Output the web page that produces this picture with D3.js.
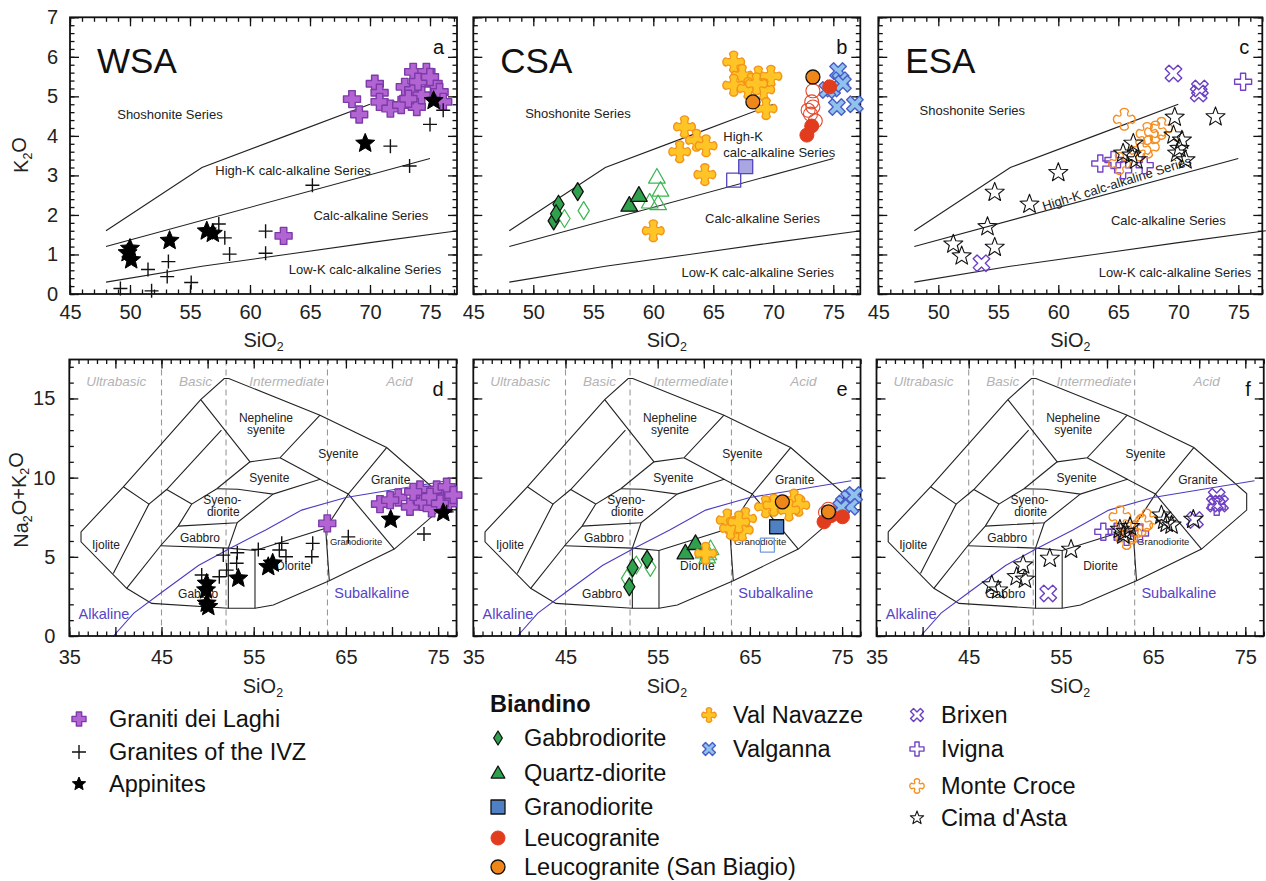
<!DOCTYPE html>
<html><head><meta charset="utf-8">
<script src="https://cdn.jsdelivr.net/npm/d3@7"></script>
<style>
body{margin:0;background:#fff;}
svg{display:block;font-family:"Liberation Sans",Arial,sans-serif;}
</style></head><body>
<svg id="chart" width="1266" height="881"></svg>
<script>
// ---------- K2O vs SiO2 (Peccerillo & Taylor) ----------
const wsaLaghiK = [[68.5,4.93],[69.1,4.54],[70.4,5.32],[70.8,5.09],[70.8,4.86],[71.7,4.69],[72.6,4.78],[72.9,5.24],[73.6,5.62],[73.6,5.16],[73.9,4.73],[74.7,5.62],[74.3,5.03],[75.3,5.32],[75.8,5.11],[76.1,4.86],[73.2,4.94],[74.0,5.37],[75.0,5.49],[62.8,1.47]];
const wsaIvzK = [[49.2,0.14],[51.5,0.62],[51.8,0.08],[53.2,0.82],[53.1,0.44],[55.1,0.29],[57.4,1.77],[57.9,1.42],[58.3,1.01],[61.3,1.59],[61.3,1.03],[65.2,2.75],[71.7,3.74],[73.3,3.24],[75.0,4.29],[76.1,4.65]];
const wsaAppK = [[50.0,1.15],[50.1,0.86],[49.8,1.04],[53.3,1.35],[56.4,1.59],[56.9,1.53],[69.6,3.81],[75.3,4.89]];

const csaGabbroK = [[52.1,2.27],[51.7,1.85],[51.9,2.03],[53.7,2.59]];
const csaGabbroOpenK = [[52.6,1.91],[54.2,2.11]];
const csaQdK = [[58.0,2.25],[58.8,2.50]];
const csaQdOpenK = [[60.3,2.96],[60.6,2.63],[59.7,2.33],[60.4,2.29]];
const csaGdK = [[67.7,3.22]];
const csaGdOpenK = [[66.7,2.88]];
const csaLeucoK = [[74.7,5.24],[73.2,4.25],[72.8,4.02]];
const csaLeucoOpenK = [[73.3,5.14],[73.2,4.86],[73.3,4.73],[72.9,4.65],[73.5,4.38],[73.1,4.55]];
const csaSanBiagioK = [[73.3,5.49],[68.3,4.86]];
const csaNavazzeK = [[66.7,5.87],[67.4,5.53],[66.7,5.28],[68.75,5.49],[69.8,5.51],[67.9,5.20],[69.2,5.17],[69.4,4.69],[68.6,5.32],[62.6,4.23],[63.6,3.89],[64.4,3.75],[62.2,3.60],[64.3,3.02],[60.0,1.60]];
const csaValgannaK = [[75.4,5.64],[75.6,5.41],[74.9,5.20],[75.8,5.32],[75.3,4.73],[76.8,4.80],[74.5,5.16]];

const esaCimaK = [[54.7,2.57],[57.6,2.27],[60.0,3.07],[54.1,1.70],[51.25,1.26],[51.95,0.96],[54.7,1.18],[65.4,3.56],[66.25,3.81],[66.1,3.51],[66.5,3.39],[69.7,4.47],[69.6,4.02],[70.3,3.89],[69.9,3.56],[70.6,3.39],[73.1,4.48],[70.1,3.68]];
const esaMonteCroceK = [[65.5,4.42],[67.4,4.06],[68.1,4.10],[68.6,4.19],[67.5,3.72],[66.8,3.64],[65.1,3.30]];
const esaIvignaK = [[63.5,3.30],[64.6,3.39],[65.4,3.13],[67.2,3.26],[75.4,5.37]];
const esaBrixenK = [[69.6,5.58],[71.8,5.20],[71.7,5.07],[53.6,0.78]];

// ---------- Na2O+K2O vs SiO2 (TAS) ----------
const wsaLaghiT = [[62.98,7.11],[68.7,8.33],[70.68,8.75],[71.95,8.16],[73.04,9.25],[73.33,8.47],[74.3,8.06],[74.85,9.25],[75.75,8.79],[75.93,9.42],[76.1,8.37],[76.65,8.9],[74.12,8.79],[75.2,8.37],[72.3,9.1],[69.8,8.58]];
const wsaIvzT = [[49.36,3.85],[51.27,3.74],[52.07,4.16],[51.7,5.11],[53.22,5.26],[53.15,4.59],[55.5,5.47],[57.78,5.43],[58.04,5.85],[58.5,5.0],[61.4,5.85],[61.3,5.0],[65.26,6.26],[73.47,6.44],[75.93,7.84]];
const wsaAppT = [[49.9,3.32],[49.83,2.9],[49.9,2.06],[50.08,1.85],[53.33,3.64],[56.58,4.37],[57.06,4.59],[69.86,7.36],[75.56,7.78]];

const csaGabbroT = [[52.28,4.31],[51.92,3.11],[53.85,4.84]];
const csaGabbroOpenT = [[51.67,3.64],[52.68,4.48],[54.2,4.33]];
const csaQdT = [[58.0,5.26],[59.1,5.85]];
const csaQdOpenT = [[60.0,5.32],[60.73,5.53],[60.37,5.0],[60.5,5.2]];
const csaGdT = [[67.9,6.9]];
const csaGdOpenT = [[66.9,5.74]];
const csaLeucoT = [[73.04,7.21],[75.04,7.53],[73.8,7.6]];
const csaLeucoOpenT = [[73.5,8.0],[73.2,7.8]];
const csaSanBiagioT = [[68.52,8.47],[73.52,7.84]];
const csaNavazzeT = [[60.2,5.22],[62.54,7.32],[63.45,6.69],[64.53,7.42],[64.17,6.69],[62.9,6.8],[63.8,7.2],[66.7,8.16],[67.6,8.26],[69.78,8.58],[70.3,8.26],[69.24,7.95]];
const csaValgannaT = [[75.2,8.37],[75.76,8.69],[76.3,8.9],[75.9,8.16],[74.9,8.1]];

const esaCimaT = [[47.5,3.22],[48.2,2.9],[50.9,4.48],[50.2,3.74],[51.1,3.58],[53.8,4.9],[56.1,5.47],[61.4,6.73],[62.5,6.9],[61.77,6.37],[62.0,6.6],[65.9,7.63],[66.47,7.11],[67.0,7.0],[66.2,7.3],[69.36,7.36]];
const esaMonteCroceT = [[61.41,7.53],[62.13,6.16],[63.76,7.0],[64.3,7.32],[62.6,6.5]];
const esaIvignaT = [[59.6,6.58],[61.05,6.58],[62.13,6.26],[63.58,6.48],[71.9,8.16]];
const esaBrixenT = [[53.63,2.69],[69.54,7.32],[71.9,8.79],[72.26,8.37],[71.7,8.37]];

// ---------- classification boundaries ----------
const ptShoshonite = [[48,1.6],[56,3.2],[63,4.0],[70,4.8]];
const ptHighK = [[48,1.2],[75,3.43]];
const ptLowK = [[48,0.3],[56,0.7],[63,1.0],[70,1.3],[77.3,1.6]];

const tasOutline = [[36.27,6.58],[36.27,5.95],[41.22,3.01],[43.94,2.06],[52.25,1.75],[55.14,1.75],[57.13,1.96],[63.2,3.49],[70.25,5.49],[75.15,7.95],[75.15,9.0],[69.42,11.9],[62.19,13.94],[52.29,16.26],[51.8,16.26],[49.25,14.93],[40.86,9.42],[36.27,6.58]];
const tasInner = [
  [[40.86,9.42],[43.64,8.33],[39.77,3.95]],
  [[43.64,8.33],[45.56,9.25],[51.5,13.0]],
  [[45.56,9.25],[48.28,8.33]],
  [[41.22,3.01],[44.9,5.7],[46.8,6.94],[48.28,8.33],[51.0,9.3]],
  [[49.25,14.93],[54.6,11.0],[57.85,11.25],[62.19,13.94]],
  [[51.0,9.3],[54.6,11.0]],
  [[51.0,9.3],[53.3,9.27],[57.1,8.96],[62.2,9.9],[65.26,8.96],[69.42,11.9]],
  [[57.85,11.25],[62.2,9.9]],
  [[46.8,6.94],[53.2,7.15],[57.1,8.96]],
  [[44.9,5.7],[52.25,5.55],[55.14,5.4],[62.8,6.8],[65.26,8.96]],
  [[52.25,5.55],[53.2,7.15]],
  [[52.25,5.55],[52.25,1.75]],
  [[55.14,5.4],[55.14,1.75]],
  [[62.8,6.8],[63.2,3.49]],
  [[65.26,8.96],[70.25,5.49]]
];
const alkalineLine = [[39.8,0],[42,1.45],[45,2.75],[49,4.45],[52.3,5.5],[56.3,6.7],[60.2,7.95],[65,8.75],[76,9.8]];
const silicaDivisions = [45,52,63];
const silicaClasses = [["Ultrabasic",40.1],["Basic",48.7],["Intermediate",58.6],["Acid",70.8]];
const tasFieldNames = [
  ["Ijolite",38.98,5.74,12],["Gabbro",49.17,6.23,12],["Syeno-",51.6,8.62,12],["diorite",51.7,7.84,12],
  ["Syenite",56.7,10.01,12],["Nepheline",56.33,13.8,12],["syenite",56.33,13.0,12],["Syenite",64.18,11.48,12],
  ["Granite",69.86,9.84,12],["Granodiorite",66.1,5.95,9.5],["Diorite",59.3,4.42,12],["Gabbro",48.97,2.65,12]
];

const xTicksTop = [45,50,55,60,65,70,75];
const yTicksTop = [0,1,2,3,4,5,6,7];
const xTicksTas = [35,45,55,65,75];
const yTicksTas = [0,5,10,15];

// ---------- symbols ----------
function crossPath(r, w){ const a=w*r;
  return `M${-a},${-r}H${a}V${-a}H${r}V${a}H${a}V${r}H${-a}V${a}H${-r}V${-a}H${-a}Z`; }
function flowerPath(r){ const a=0.4*r, c=0.1*r, t=r*0.78, k=a*1.1;
  return `M${-a},${-t}A${k},${k} 0 0 1 ${a},${-t}Q${c},${-c} ${t},${-a}A${k},${k} 0 0 1 ${t},${a}`+
         `Q${c},${c} ${a},${t}A${k},${k} 0 0 1 ${-a},${t}Q${-c},${c} ${-t},${a}A${k},${k} 0 0 1 ${-t},${-a}Q${-c},${-c} ${-a},${-t}Z`; }
function starPath(r, inner){ let p=[]; for(let i=0;i<10;i++){ const rr=i%2?r*inner:r; const ang=-Math.PI/2+i*Math.PI/5; p.push([rr*Math.cos(ang),rr*Math.sin(ang)]); }
  return "M"+p.map(d=>d.map(v=>v.toFixed(2)).join(",")).join("L")+"Z"; }
const shapes = {
  cross: r=>crossPath(r,0.38),
  xcross: r=>crossPath(r,0.3),
  plus: r=>`M${-r},0H${r}M0,${-r}V${r}`,
  star: r=>starPath(r,0.45),
  ostar: r=>starPath(r,0.42),
  diamond: r=>`M0,${-r}L${r*0.62},0L0,${r}L${-r*0.62},0Z`,
  triangle: r=>`M0,${-r}L${r*0.98},${r*0.72}L${-r*0.98},${r*0.72}Z`,
  square: r=>`M${-r},${-r}H${r}V${r}H${-r}Z`,
  circle: r=>`M${-r},0A${r},${r} 0 1 0 ${r},0A${r},${r} 0 1 0 ${-r},0Z`,
  flower: flowerPath
};

const styles = {
  laghi:{shape:"cross",r:8.5,fill:"#b265d2",stroke:"#7d3aa9",sw:1.4},
  ivz:{shape:"plus",r:7,fill:"none",stroke:"#111",sw:1.4},
  app:{shape:"star",r:10,fill:"#000",stroke:"#000",sw:1},
  gabbro:{shape:"diamond",r:9,fill:"#2fa04c",stroke:"#111",sw:1.3},
  gabbroOpen:{shape:"diamond",r:9,fill:"none",stroke:"#3bb552",sw:1.2},
  qd:{shape:"triangle",r:8.5,fill:"#2fa04c",stroke:"#111",sw:1.3},
  qdOpen:{shape:"triangle",r:8.5,fill:"none",stroke:"#3bb552",sw:1.2},
  gdB:{shape:"square",r:7,fill:"#aaa6e2",stroke:"#5246bf",sw:1.3},
  gdOpenB:{shape:"square",r:7,fill:"none",stroke:"#5246bf",sw:1.3},
  gdE:{shape:"square",r:7,fill:"#4e80c3",stroke:"#111",sw:1.3},
  gdOpenE:{shape:"square",r:7,fill:"none",stroke:"#6f9ddb",sw:1.3},
  leuco:{shape:"circle",r:7,fill:"#e23c1f",stroke:"#e23c1f",sw:1},
  leucoOpen:{shape:"circle",r:7,fill:"none",stroke:"#e5482b",sw:1.1},
  biagio:{shape:"circle",r:7,fill:"#ef8619",stroke:"#111",sw:1.3},
  navazze:{shape:"flower",r:10.5,fill:"#ffc526",stroke:"#f39419",sw:1.3},
  valganna:{shape:"xcross",r:9,fill:"#8fc2ec",stroke:"#4b5cc6",sw:1.4,rot:45},
  brixen:{shape:"xcross",r:9,fill:"none",stroke:"#6a3fc3",sw:1.4,rot:45},
  ivigna:{shape:"xcross",r:8.5,fill:"none",stroke:"#7442c8",sw:1.4},
  monte:{shape:"flower",r:10.5,fill:"none",stroke:"#f58c1e",sw:1.3},
  cima:{shape:"ostar",r:10,fill:"none",stroke:"#111",sw:1.1}
};

const svg = d3.select("#chart");

function drawSymbols(g, data, st, x, y){
  g.selectAll(null).data(data).enter().append("path")
    .attr("d", shapes[st.shape](st.r))
    .attr("transform", d=>`translate(${x(d[0])},${y(d[1])})${st.rot?` rotate(${st.rot})`:""}`)
    .attr("fill", st.fill).attr("stroke", st.stroke).attr("stroke-width", st.sw)
    .attr("stroke-linejoin","round");
}

function subText(sel, parts){ // parts: [text, isSub]
  parts.forEach(([t,s])=>{
    const ts = sel.append("tspan").text(t);
    if(s) ts.attr("font-size","0.62em").attr("dy","0.3em");
    else if(sel.selectAll("tspan").size()>1) ts.attr("dy","-0.3em");
  });
}

function frameAxes(g, x, y, o){
  const [x0,x1]=x.range(), [y1,y0]=y.range();
  const ax = (gen, tr) => g.append("g").attr("transform",tr).call(gen)
     .call(s=>s.select(".domain").remove())
     .call(s=>s.selectAll("line").attr("stroke","#111").attr("stroke-width",1.3))
     .call(s=>s.selectAll("text").attr("font-size",20).attr("fill","#222").attr("font-family","Liberation Sans, Arial, sans-serif"));
  // minor ticks
  ax(d3.axisBottom(x).tickValues(o.xMinor).tickSize(-4.5).tickFormat(""), `translate(0,${y1})`);
  ax(d3.axisTop(x).tickValues(o.xMinor).tickSize(-4.5).tickFormat(""), `translate(0,${y0})`);
  ax(d3.axisLeft(y).tickValues(o.yMinor).tickSize(-4.5).tickFormat(""), `translate(${x0},0)`);
  ax(d3.axisRight(y).tickValues(o.yMinor).tickSize(-4.5).tickFormat(""), `translate(${x1},0)`);
  // major ticks
  ax(d3.axisBottom(x).tickValues(o.xMajor).tickSize(-9).tickPadding(o.xPad).tickFormat(d=>o.xLab.includes(d)?d:""), `translate(0,${y1})`);
  ax(d3.axisTop(x).tickValues(o.xMajor).tickSize(-9).tickFormat(""), `translate(0,${y0})`);
  ax(d3.axisLeft(y).tickValues(o.yMajor).tickSize(-9).tickPadding(o.yPad).tickFormat(d=>o.yLabels?d:""), `translate(${x0},0)`);
  ax(d3.axisRight(y).tickValues(o.yMajor).tickSize(-9).tickFormat(""), `translate(${x1},0)`);
  g.append("rect").attr("x",x0).attr("y",y0).attr("width",x1-x0).attr("height",y1-y0)
    .attr("fill","none").attr("stroke","#111").attr("stroke-width",1.8);
  // axis title
  const t = g.append("text").attr("x",(x0+x1)/2).attr("y",o.titleY).attr("text-anchor","middle")
    .attr("font-size",20).attr("fill","#222");
  subText(t, [["SiO",0],["2",1]]);
}

const line = (x,y)=>d3.line().x(d=>x(d[0])).y(d=>y(d[1]));
const range = (a,b,s)=>d3.range(a,b+1e-9,s).map(v=>+v.toFixed(2));

// ---------- top row ----------
const topPanels = [
  {left:70, xmax:77.25, name:"WSA", letter:"a", ylab:true},
  {left:473.3, xmax:77.25, name:"CSA", letter:"b"},
  {left:878.3, xmax:77.0, name:"ESA", letter:"c"}
];
const topScales = topPanels.map(p=>{
  const x = d3.scaleLinear().domain([45,p.xmax]).range([p.left, p.left+(p.xmax-45)*12]);
  const y = d3.scaleLinear().domain([0,7]).range([294,17.3]);
  return {x,y};
});

topPanels.forEach((p,i)=>{
  const {x,y} = topScales[i];
  const g = svg.append("g");
  const lg = line(x,y);
  [ptShoshonite, ptHighK, ptLowK].forEach(l=>g.append("path").attr("d",lg(l)).attr("fill","none").attr("stroke","#222").attr("stroke-width",1.1));
  frameAxes(g, x, y, {xMinor:range(45,77,1), yMinor:range(0,7,0.2), xMajor:xTicksTop, xLab:xTicksTop, yMajor:yTicksTop, yLabels:!!p.ylab, xPad:11, yPad:12, titleY:347});
  g.append("text").attr("x",x.range()[0]+27).attr("y",73).attr("font-size",35).attr("fill","#111").text(p.name);
  g.append("text").attr("x",x.range()[1]-13).attr("y",54).attr("text-anchor","end").attr("font-size",20).attr("fill","#111").text(p.letter);
  p.g = g;
});

// series labels
function seriesLabel(g,x,y,t,sx,sy,anchor,rot){
  const el = g.append("text").attr("font-size",13).attr("fill","#222").attr("text-anchor",anchor||"middle")
    .attr("dy","0.35em").text(t);
  el.attr("transform",`translate(${x(sx)},${y(sy)})${rot?` rotate(${rot})`:""}`);
}
{
  const {x,y}=topScales[0], g=topPanels[0].g;
  seriesLabel(g,x,y,"Shoshonite Series",53.33,4.54);
  seriesLabel(g,x,y,"High-K calc-alkaline Series",63.58,3.12);
  seriesLabel(g,x,y,"Calc-alkaline Series",70.07,2.0);
  seriesLabel(g,x,y,"Low-K calc-alkaline Series",69.58,0.61);
  drawSymbols(g, wsaLaghiK, styles.laghi, x, y);
  drawSymbols(g, wsaIvzK, styles.ivz, x, y);
  drawSymbols(g, wsaAppK, styles.app, x, y);
}
{
  const {x,y}=topScales[1], g=topPanels[1].g;
  seriesLabel(g,x,y,"Shoshonite Series",53.72,4.57);
  seriesLabel(g,x,y,"High-K",65.83,3.98,"start");
  seriesLabel(g,x,y,"calc-alkaline Series",65.83,3.58,"start");
  seriesLabel(g,x,y,"Calc-alkaline Series",69.1,1.9);
  seriesLabel(g,x,y,"Low-K calc-alkaline Series",68.7,0.54);
  drawSymbols(g, csaGabbroOpenK, styles.gabbroOpen, x, y);
  drawSymbols(g, csaGabbroK, styles.gabbro, x, y);
  drawSymbols(g, csaQdOpenK, styles.qdOpen, x, y);
  drawSymbols(g, csaQdK, styles.qd, x, y);
  drawSymbols(g, csaGdOpenK, styles.gdOpenB, x, y);
  drawSymbols(g, csaGdK, styles.gdB, x, y);
  drawSymbols(g, csaNavazzeK, styles.navazze, x, y);
  drawSymbols(g, csaValgannaK, styles.valganna, x, y);
  drawSymbols(g, csaLeucoOpenK, styles.leucoOpen, x, y);
  drawSymbols(g, csaLeucoK, styles.leuco, x, y);
  drawSymbols(g, csaSanBiagioK, styles.biagio, x, y);
}
{
  const {x,y}=topScales[2], g=topPanels[2].g;
  seriesLabel(g,x,y,"Shoshonite Series",52.83,4.65);
  seriesLabel(g,x,y,"High-K calc-alkaline Series",64.87,2.8,"middle",-17.3);
  seriesLabel(g,x,y,"Calc-alkaline Series",69.17,1.85);
  seriesLabel(g,x,y,"Low-K calc-alkaline Series",69.72,0.55);
  drawSymbols(g, esaBrixenK, styles.brixen, x, y);
  drawSymbols(g, esaIvignaK, styles.ivigna, x, y);
  drawSymbols(g, esaMonteCroceK, styles.monte, x, y);
  drawSymbols(g, esaCimaK, styles.cima, x, y);
}
{ const t = svg.append("text").attr("transform","translate(28,155) rotate(-90)").attr("text-anchor","middle").attr("font-size",20).attr("fill","#222");
  subText(t,[["K",0],["2",1],["O",0]]); }

// ---------- bottom row ----------
const botPanels = [
  {left:69.3, letter:"d", ylab:true},
  {left:473.3, letter:"e"},
  {left:876.5, letter:"f"}
];
const botScales = botPanels.map(p=>({
  x: d3.scaleLinear().domain([35,77]).range([p.left, p.left+42*9.22]),
  y: d3.scaleLinear().domain([0,17.46]).range([636,359.5])
}));
botPanels.forEach((p,i)=>{
  const {x,y}=botScales[i];
  const g = svg.append("g"); p.g=g;
  const lg = line(x,y);
  silicaDivisions.forEach(s=>g.append("line").attr("x1",x(s)).attr("x2",x(s)).attr("y1",y.range()[1]).attr("y2",y.range()[0])
     .attr("stroke","#999").attr("stroke-width",1.1).attr("stroke-dasharray","6,4"));
  silicaClasses.forEach(([t,s])=>g.append("text").attr("x",x(s)).attr("y",386).attr("text-anchor","middle")
     .attr("font-size",13.5).attr("font-style","italic").attr("fill","#b3b3b3").text(t));
  g.append("path").attr("d",lg(tasOutline)).attr("fill","none").attr("stroke","#222").attr("stroke-width",1.1);
  tasInner.forEach(l=>g.append("path").attr("d",lg(l)).attr("fill","none").attr("stroke","#222").attr("stroke-width",1.1));
  tasFieldNames.forEach(([t,sx,sy,fs])=>g.append("text").attr("x",x(sx)).attr("y",y(sy)).attr("dy","0.35em")
     .attr("text-anchor","middle").attr("font-size",fs).attr("fill","#222").text(t));
  g.append("path").attr("d",lg(alkalineLine)).attr("fill","none").attr("stroke","#4b3cc2").attr("stroke-width",1.1);
  g.append("text").attr("x",x(38.76)).attr("y",y(1.39)).attr("dy","0.35em").attr("text-anchor","middle").attr("font-size",14.5).attr("fill","#5544c6").text("Alkaline");
  g.append("text").attr("x",x(67.8)).attr("y",y(2.73)).attr("dy","0.35em").attr("text-anchor","middle").attr("font-size",14.5).attr("fill","#5544c6").text("Subalkaline");
  frameAxes(g, x, y, {xMinor:range(35,77,1), yMinor:range(0,17,1), xMajor:range(35,75,5), xLab:xTicksTas, yMajor:yTicksTas, yLabels:!!p.ylab, xPad:14, yPad:14, titleY:693});
  g.append("text").attr("x",x.range()[1]-13).attr("y",396).attr("text-anchor","end").attr("font-size",20).attr("fill","#111").text(p.letter);
});
{
  const {x,y}=botScales[0], g=botPanels[0].g;
  drawSymbols(g, wsaLaghiT, styles.laghi, x, y);
  drawSymbols(g, wsaIvzT, styles.ivz, x, y);
  drawSymbols(g, wsaAppT, styles.app, x, y);
}
{
  const {x,y}=botScales[1], g=botPanels[1].g;
  drawSymbols(g, csaGabbroOpenT, styles.gabbroOpen, x, y);
  drawSymbols(g, csaGabbroT, styles.gabbro, x, y);
  drawSymbols(g, csaQdOpenT, styles.qdOpen, x, y);
  drawSymbols(g, csaQdT, styles.qd, x, y);
  drawSymbols(g, csaGdOpenT, styles.gdOpenE, x, y);
  drawSymbols(g, csaNavazzeT, styles.navazze, x, y);
  drawSymbols(g, csaGdT, styles.gdE, x, y);
  drawSymbols(g, csaValgannaT, styles.valganna, x, y);
  drawSymbols(g, csaLeucoOpenT, styles.leucoOpen, x, y);
  drawSymbols(g, csaLeucoT, styles.leuco, x, y);
  drawSymbols(g, csaSanBiagioT, styles.biagio, x, y);
}
{
  const {x,y}=botScales[2], g=botPanels[2].g;
  drawSymbols(g, esaBrixenT, styles.brixen, x, y);
  drawSymbols(g, esaIvignaT, styles.ivigna, x, y);
  drawSymbols(g, esaMonteCroceT, styles.monte, x, y);
  drawSymbols(g, esaCimaT, styles.cima, x, y);
}
{ const t = svg.append("text").attr("transform","translate(28,500) rotate(-90)").attr("text-anchor","middle").attr("font-size",20).attr("fill","#222");
  subText(t,[["Na",0],["2",1],["O+K",0],["2",1],["O",0]]); }

// ---------- legend ----------
const legendItems = [
  ["Graniti dei Laghi","laghi",79,719,30],["Granites of the IVZ","ivz",79,752,30],["Appinites","app",79,784,30],
  ["Gabbrodiorite","gabbro",498,738,26],["Quartz-diorite","qd",498,773,26],["Granodiorite","gdE",498,807,26],
  ["Leucogranite","leuco",498,838,26],["Leucogranite (San Biagio)","biagio",498,867,26],
  ["Val Navazze","navazze",709,715,24],["Valganna","valganna",709,749,24],
  ["Brixen","brixen",917,715,24],["Ivigna","ivigna",917,749,24],["Monte Croce","monte",917,786,24],["Cima d'Asta","cima",917,818,24]
];
const lg = svg.append("g");
lg.append("text").attr("x",490).attr("y",704).attr("dy","0.35em").attr("font-size",23.5).attr("font-weight","bold").attr("fill","#111").text("Biandino");
legendItems.forEach(([t,k,sx,sy,off])=>{
  const st = Object.assign({}, styles[k], {r: Math.min(styles[k].r, 7)});
  lg.append("path").attr("d",shapes[st.shape](st.r))
    .attr("transform",`translate(${sx},${sy})${st.rot?` rotate(${st.rot})`:""}`)
    .attr("fill",st.fill).attr("stroke",st.stroke).attr("stroke-width",st.sw).attr("stroke-linejoin","round");
  lg.append("text").attr("x",sx+off).attr("y",sy).attr("dy","0.35em").attr("font-size",23.5).attr("fill","#111").text(t);
});
</script></body></html>
